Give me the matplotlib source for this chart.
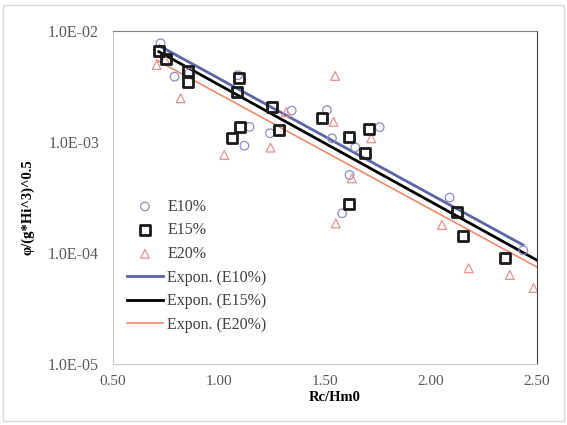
import numpy as np
import matplotlib
matplotlib.use("Agg")
import matplotlib.pyplot as plt
from matplotlib.patches import Rectangle

# ---- data ----
e10_x = [0.724, 0.790, 0.860, 1.090, 1.144, 1.120, 1.241, 1.343, 1.509, 1.533,
         1.643, 1.758, 1.616, 1.581, 2.088, 2.435]
e10_y = [7.75e-3, 3.88e-3, 4.2e-3, 4.0e-3, 1.37e-3, 9.27e-4, 1.20e-3, 1.92e-3, 1.94e-3, 1.08e-3,
         8.95e-4, 1.36e-3, 5.05e-4, 2.28e-4, 3.16e-4, 1.06e-4]

e15_x = [0.716, 0.748, 0.853, 0.852, 1.094, 1.087, 1.251, 1.284, 1.097, 1.062,
         1.485, 1.612, 1.707, 1.688, 1.612, 2.121, 2.151, 2.349]
e15_y = [6.58e-3, 5.56e-3, 4.34e-3, 3.49e-3, 3.79e-3, 2.80e-3, 2.07e-3, 1.29e-3, 1.37e-3, 1.08e-3,
         1.64e-3, 1.12e-3, 1.31e-3, 7.91e-4, 2.76e-4, 2.36e-4, 1.42e-4, 9.1e-5]

e20_x = [0.706, 0.745, 0.819, 1.025, 1.243, 1.317, 1.548, 1.540, 1.718, 1.627,
         1.551, 2.052, 2.178, 2.372, 2.484]
e20_y = [4.94e-3, 5.5e-3, 2.48e-3, 7.64e-4, 8.9e-4, 1.86e-3, 3.94e-3, 1.52e-3, 1.08e-3, 4.71e-4,
         1.85e-4, 1.79e-4, 7.28e-5, 6.34e-5, 4.84e-5]

# exponential trendlines y = a * exp(b * x), coefficients
trend_names = ['Expon. (E10%)', 'Expon. (E15%)', 'Expon. (E20%)']
trend_a = [0.0415, 0.0370, 0.0296]
trend_b = [-2.408, -2.425, -2.393]
trend_xmin = [0.72, 0.716, 0.706]
trend_xmax = [2.435, 2.5, 2.5]

x_ticks = [0.5, 1.0, 1.5, 2.0, 2.5]
x_tick_labels = ["0.50", "1.00", "1.50", "2.00", "2.50"]
y_ticks = [1e-5, 1e-4, 1e-3, 1e-2]
y_tick_labels = ["1.0E-05", "1.0E-04", "1.0E-03", "1.0E-02"]

plt.rcParams['font.family'] = ['Liberation Serif', 'DejaVu Serif']

fig = plt.figure(figsize=(5.67, 4.25), dpi=100)
fig.patches.append(Rectangle((0.006, 0.01), 0.988, 0.978, transform=fig.transFigure,
                             fill=False, edgecolor='#d9d9d9', linewidth=1.0))
ax = fig.add_axes([0.1993, 0.1435, 0.7477, 0.7835])

c10 = '#8c8cc8'
c20 = '#e89090'
ax.scatter(e10_x, e10_y, marker='o', s=38, facecolors='none', edgecolors=c10,
           linewidths=0.9, label='E10%', zorder=3)
ax.scatter(e15_x, e15_y, marker='s', s=52, facecolors='none', edgecolors='#1a1a1a',
           linewidths=2.0, label='E15%', zorder=4)
ax.scatter(e20_x, e20_y, marker='^', s=40, facecolors='none', edgecolors=c20,
           linewidths=0.9, label='E20%', zorder=3)

trend_cols = ['#5a66a6', '#000000', '#f08a6a']
trend_lw = [2.0, 2.0, 1.2]
for name, a, b, x0, x1, col, lw in zip(trend_names, trend_a, trend_b, trend_xmin,
                                       trend_xmax, trend_cols, trend_lw):
    xx = np.linspace(x0, x1, 50)
    ax.plot(xx, a * np.exp(b * xx), color=col, lw=lw, label=name, zorder=2)

ax.set_yscale('log')
ax.set_xlim(0.5, 2.5)
ax.set_ylim(1e-5, 1e-2)
ax.set_xticks(x_ticks)
ax.set_xticklabels(x_tick_labels)
ax.set_yticks(y_ticks)
ax.set_yticklabels(y_tick_labels)
ax.yaxis.set_minor_locator(matplotlib.ticker.NullLocator())
ax.tick_params(axis='x', length=0, labelsize=11, labelcolor='#595959', pad=8)
ax.tick_params(axis='y', length=0, labelsize=11.5, labelcolor='#595959', pad=10)

ax.spines['top'].set_color('#7f7f7f')
ax.spines['right'].set_color('#404040')
ax.spines['left'].set_color('#c8c8c8')
ax.spines['bottom'].set_color('#c8c8c8')

ax.set_xlabel('Rc/Hm0', fontsize=10.5, fontweight='bold')
ax.xaxis.set_label_coords(0.524, -0.08)
ax.set_ylabel('φ/(g*Hi^3)^0.5', fontsize=10.5, fontweight='bold')
ax.yaxis.set_label_coords(-0.185, 0.47)

leg = ax.legend(loc='lower left', bbox_to_anchor=(0.0, 0.05), frameon=False, fontsize=11.5,
                labelspacing=0.48, handlelength=2.2, handletextpad=0.3,
                labelcolor='#404040')

fig.savefig('out.png', dpi=100)
